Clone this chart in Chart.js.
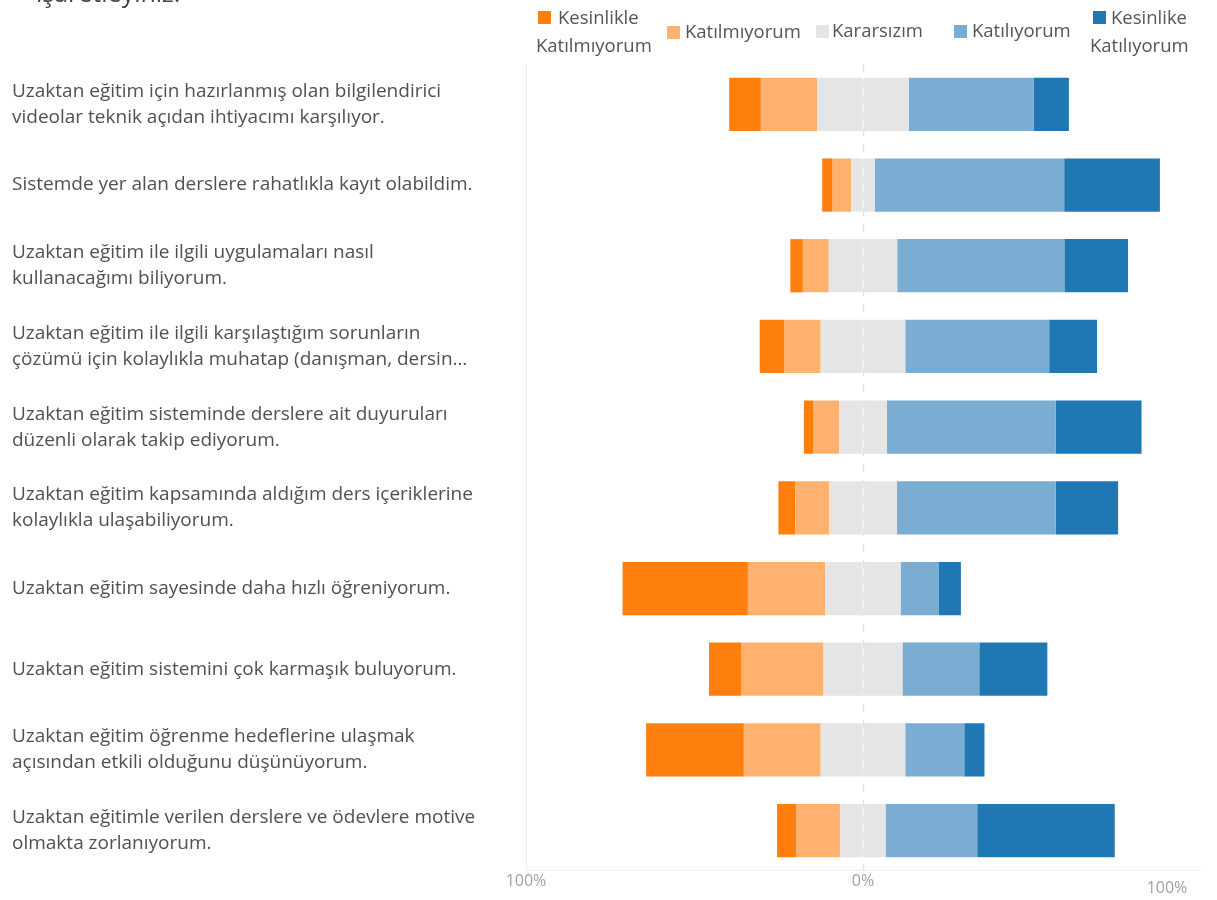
<!DOCTYPE html>
<html lang="tr">
<head>
<meta charset="UTF-8">
<title>Uzaktan eğitim</title>
<script src="https://cdn.jsdelivr.net/npm/chart.js@4"></script>
<style>
    html, body { margin: 0; padding: 0; background: #fff; }
    #wrap { position: relative; width: 1217px; height: 900px; overflow: hidden; font-family: "Open Sans", sans-serif; color: #555; }
    #title { position: absolute; left: 36px; top: -25px; font-size: 25px; color: #444; white-space: nowrap; }
    .lg { position: absolute; font-size: 18.5px; line-height: 22px; white-space: nowrap; }
    .box { position: absolute; width: 13px; height: 13px; }
</style>
</head>
<body>
<div id="wrap">
    <div id="title">işaretleyiniz.</div>
    <canvas id="chart" width="1217" height="900"></canvas>
    <div id="legend"></div>
</div>
<script>
const categories = [
    ['Uzaktan eğitim için hazırlanmış olan bilgilendirici', 'videolar teknik açıdan ihtiyacımı karşılıyor.'],
    'Sistemde yer alan derslere rahatlıkla kayıt olabildim.',
    ['Uzaktan eğitim ile ilgili uygulamaları nasıl', 'kullanacağımı biliyorum.'],
    ['Uzaktan eğitim ile ilgili karşılaştığım sorunların', 'çözümü için kolaylıkla muhatap (danışman, dersin…'],
    ['Uzaktan eğitim sisteminde derslere ait duyuruları', 'düzenli olarak takip ediyorum.'],
    ['Uzaktan eğitim kapsamında aldığım ders içeriklerine', 'kolaylıkla ulaşabiliyorum.'],
    'Uzaktan eğitim sayesinde daha hızlı öğreniyorum.',
    'Uzaktan eğitim sistemini çok karmaşık buluyorum.',
    ['Uzaktan eğitim öğrenme hedeflerine ulaşmak', 'açısından etkili olduğunu düşünüyorum.'],
    ['Uzaktan eğitimle verilen derslere ve ödevlere motive', 'olmakta zorlanıyorum.']
];

// percentages per answer
const kesinlikleKatilmiyorum = [9.4, 3.1, 3.7, 7.2, 2.9, 5.0, 37.2, 9.5, 29.0, 5.8];
const katilmiyorum          = [16.7, 5.5, 7.7, 10.9, 7.6, 10.0, 23.0, 24.5, 22.8, 13.0];
const kararsizim            = [27.2, 7.0, 20.3, 25.1, 14.1, 20.2, 22.3, 23.4, 25.1, 13.4];
const katiliyorum           = [37.1, 56.2, 49.6, 42.7, 50.1, 47.1, 11.4, 22.8, 17.5, 27.2];
const kesinlikleKatiliyorum = [10.4, 28.4, 18.9, 14.2, 25.5, 18.5, 6.5, 20.2, 6.0, 40.8];

const legendLabels = [['Kesinlikle', 'Katılmıyorum'], ['Katılmıyorum'], ['Kararsızım'], ['Katılıyorum'], ['Kesinlike', 'Katılıyorum']];
const colors = ['#ff7f0e', '#ffb26f', '#e5e5e5', '#7badd3', '#1f77b4'];

const xTicks = [-100, 0, 100];
const xTickLabels = ['100%', '0%', '100%'];

// legend (html, so the labels wrap like the original)
const legendPos = [
    { box: [538, 11], lines: [[558, 6], [536, 34]] },
    { box: [667, 26], lines: [[685, 20]] },
    { box: [816, 25], lines: [[832, 19]] },
    { box: [954, 25], lines: [[972, 19]] },
    { box: [1093, 11], lines: [[1111, 6], [1090, 34]] }
];
const legendEl = document.getElementById('legend');
legendLabels.forEach((lines, i) => {
    const p = legendPos[i];
    legendEl.innerHTML += `<div class="box" style="left:${p.box[0]}px;top:${p.box[1]}px;background:${colors[i]}"></div>`;
    lines.forEach((t, j) => {
        legendEl.innerHTML += `<div class="lg" style="left:${p.lines[j][0]}px;top:${p.lines[j][1]}px">${t}</div>`;
    });
});

const neg = arr => arr.map(v => -v);
const half = arr => arr.map(v => v / 2);

const zeroLine = {
    id: 'zeroLine',
    afterDatasetsDraw(chart) {
        const { ctx, chartArea, scales } = chart;
        const x = Math.round(scales.x.getPixelForValue(0)) + 0.5;
        ctx.save();
        ctx.strokeStyle = '#e3e3e3';
        ctx.lineWidth = 1.5;
        ctx.setLineDash([8, 8]);
        ctx.beginPath();
        ctx.moveTo(x, chartArea.top);
        ctx.lineTo(x, chartArea.bottom);
        ctx.stroke();
        ctx.restore();
    },
    afterDraw(chart) {
        // right-hand 100% label sits a bit off in the original
        const { ctx, scales } = chart;
        ctx.save();
        ctx.font = '16px "Open Sans"';
        ctx.fillStyle = '#a0a0a0';
        ctx.textAlign = 'center';
        ctx.textBaseline = 'middle';
        ctx.fillText(xTickLabels[2], scales.x.getPixelForValue(100) - 33, 888);
        ctx.restore();
    }
};

new Chart(document.getElementById('chart'), {
    type: 'bar',
    data: {
        labels: categories,
        datasets: [
            { label: 'Kararsızım', data: neg(half(kararsizim)), backgroundColor: colors[2] },
            { label: 'Kararsızım+', data: half(kararsizim), backgroundColor: colors[2] },
            { label: 'Katılmıyorum', data: neg(katilmiyorum), backgroundColor: colors[1] },
            { label: 'Katılıyorum', data: katiliyorum, backgroundColor: colors[3] },
            { label: 'Kesinlikle Katılmıyorum', data: neg(kesinlikleKatilmiyorum), backgroundColor: colors[0] },
            { label: 'Kesinlike Katılıyorum', data: kesinlikleKatiliyorum, backgroundColor: colors[4] }
        ]
    },
    options: {
        indexAxis: 'y',
        responsive: false,
        animation: false,
        layout: { padding: { left: 12, right: 17, top: 64, bottom: 2 } },
        datasets: { bar: { barPercentage: 0.66, categoryPercentage: 1, borderWidth: 0 } },
        plugins: { legend: { display: false }, tooltip: { enabled: false } },
        scales: {
            x: {
                stacked: true,
                min: -100,
                max: 100,
                afterBuildTicks: s => { s.ticks = xTicks.map(v => ({ value: v })); },
                ticks: {
                    color: '#a0a0a0',
                    font: { family: 'Open Sans', size: 16 },
                    padding: 1,
                    maxRotation: 0,
                    callback: (v, i) => i === 2 ? '' : xTickLabels[i]
                },
                grid: {
                    drawTicks: false,
                    color: ctx => ctx.tick && ctx.tick.value === -100 ? '#eeeeee' : 'rgba(0,0,0,0)'
                },
                border: { color: '#f0f0f0' }
            },
            y: {
                stacked: true,
                afterFit: s => { s.width = 514; },
                ticks: {
                    crossAlign: 'far',
                    color: '#505050',
                    font: { family: 'Open Sans', size: 19, lineHeight: 1.37 }
                },
                grid: { display: false },
                border: { display: false }
            }
        }
    },
    plugins: [zeroLine]
});
</script>
</body>
</html>
